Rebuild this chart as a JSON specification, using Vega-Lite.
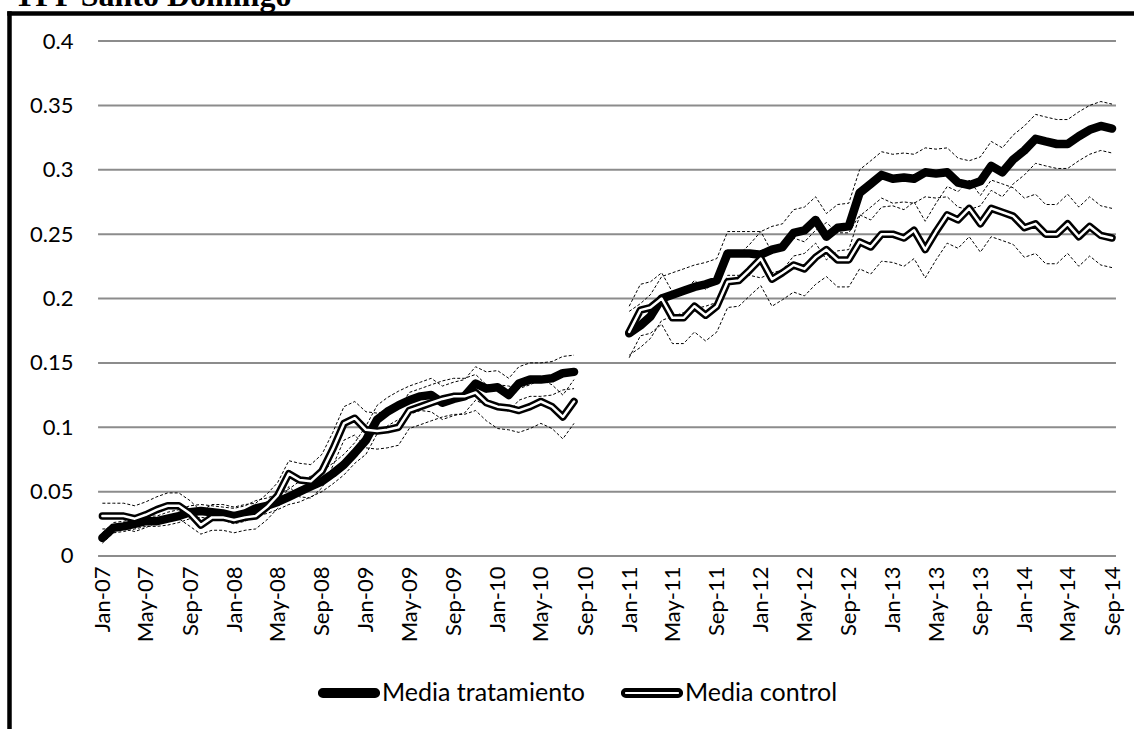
{
  "$schema": "https://vega.github.io/schema/vega-lite/v6.json",
  "width": 1125,
  "height": 716,
  "autosize": {"type": "none"},
  "padding": {"left": 9, "top": 13, "right": 0, "bottom": 0},
  "title": {"text": "TFP Santo Domingo", "font": "Liberation Serif", "fontSize": 32, "fontWeight": "bold", "color": "black", "anchor": "start", "baseline": "alphabetic", "offset": -25, "dx": 5},
  "config": {"view": {"stroke": null}, "font": "Lato"},
  "resolve": {"axis": {"x": "independent", "y": "independent"}},
  "data": {"values": [
    {"d":"2007-01-01","p":1,"t":0.014,"c":0.031,"tu":0.018,"tl":0.010,"cu":0.041,"cl":0.021},
    {"d":"2007-02-01","p":1,"t":0.022,"c":0.031,"tu":0.026,"tl":0.018,"cu":0.041,"cl":0.021},
    {"d":"2007-03-01","p":1,"t":0.023,"c":0.031,"tu":0.027,"tl":0.019,"cu":0.041,"cl":0.021},
    {"d":"2007-04-01","p":1,"t":0.025,"c":0.029,"tu":0.029,"tl":0.021,"cu":0.039,"cl":0.019},
    {"d":"2007-05-01","p":1,"t":0.027,"c":0.032,"tu":0.031,"tl":0.023,"cu":0.042,"cl":0.022},
    {"d":"2007-06-01","p":1,"t":0.027,"c":0.036,"tu":0.031,"tl":0.023,"cu":0.046,"cl":0.026},
    {"d":"2007-07-01","p":1,"t":0.029,"c":0.039,"tu":0.034,"tl":0.024,"cu":0.049,"cl":0.029},
    {"d":"2007-08-01","p":1,"t":0.031,"c":0.039,"tu":0.036,"tl":0.026,"cu":0.049,"cl":0.029},
    {"d":"2007-09-01","p":1,"t":0.034,"c":0.033,"tu":0.039,"tl":0.029,"cu":0.043,"cl":0.023},
    {"d":"2007-10-01","p":1,"t":0.035,"c":0.024,"tu":0.040,"tl":0.030,"cu":0.035,"cl":0.017},
    {"d":"2007-11-01","p":1,"t":0.034,"c":0.030,"tu":0.039,"tl":0.029,"cu":0.040,"cl":0.020},
    {"d":"2007-12-01","p":1,"t":0.033,"c":0.030,"tu":0.038,"tl":0.028,"cu":0.040,"cl":0.020},
    {"d":"2008-01-01","p":1,"t":0.031,"c":0.028,"tu":0.037,"tl":0.025,"cu":0.038,"cl":0.018},
    {"d":"2008-02-01","p":1,"t":0.033,"c":0.030,"tu":0.039,"tl":0.027,"cu":0.040,"cl":0.020},
    {"d":"2008-03-01","p":1,"t":0.037,"c":0.031,"tu":0.043,"tl":0.031,"cu":0.041,"cl":0.021},
    {"d":"2008-04-01","p":1,"t":0.039,"c":0.038,"tu":0.045,"tl":0.033,"cu":0.048,"cl":0.028},
    {"d":"2008-05-01","p":1,"t":0.042,"c":0.047,"tu":0.048,"tl":0.036,"cu":0.057,"cl":0.037},
    {"d":"2008-06-01","p":1,"t":0.046,"c":0.064,"tu":0.052,"tl":0.040,"cu":0.074,"cl":0.054},
    {"d":"2008-07-01","p":1,"t":0.050,"c":0.059,"tu":0.058,"tl":0.042,"cu":0.072,"cl":0.046},
    {"d":"2008-08-01","p":1,"t":0.054,"c":0.058,"tu":0.062,"tl":0.046,"cu":0.071,"cl":0.045},
    {"d":"2008-09-01","p":1,"t":0.058,"c":0.066,"tu":0.066,"tl":0.050,"cu":0.079,"cl":0.053},
    {"d":"2008-10-01","p":1,"t":0.064,"c":0.083,"tu":0.072,"tl":0.056,"cu":0.096,"cl":0.070},
    {"d":"2008-11-01","p":1,"t":0.071,"c":0.103,"tu":0.079,"tl":0.063,"cu":0.116,"cl":0.090},
    {"d":"2008-12-01","p":1,"t":0.080,"c":0.107,"tu":0.088,"tl":0.072,"cu":0.120,"cl":0.094},
    {"d":"2009-01-01","p":1,"t":0.090,"c":0.098,"tu":0.101,"tl":0.079,"cu":0.112,"cl":0.084},
    {"d":"2009-02-01","p":1,"t":0.106,"c":0.097,"tu":0.117,"tl":0.095,"cu":0.111,"cl":0.083},
    {"d":"2009-03-01","p":1,"t":0.112,"c":0.098,"tu":0.123,"tl":0.101,"cu":0.112,"cl":0.084},
    {"d":"2009-04-01","p":1,"t":0.117,"c":0.100,"tu":0.128,"tl":0.106,"cu":0.114,"cl":0.086},
    {"d":"2009-05-01","p":1,"t":0.121,"c":0.113,"tu":0.132,"tl":0.110,"cu":0.127,"cl":0.099},
    {"d":"2009-06-01","p":1,"t":0.124,"c":0.116,"tu":0.135,"tl":0.113,"cu":0.130,"cl":0.102},
    {"d":"2009-07-01","p":1,"t":0.125,"c":0.119,"tu":0.138,"tl":0.112,"cu":0.133,"cl":0.105},
    {"d":"2009-08-01","p":1,"t":0.119,"c":0.122,"tu":0.132,"tl":0.106,"cu":0.136,"cl":0.108},
    {"d":"2009-09-01","p":1,"t":0.122,"c":0.124,"tu":0.135,"tl":0.109,"cu":0.138,"cl":0.110},
    {"d":"2009-10-01","p":1,"t":0.124,"c":0.124,"tu":0.137,"tl":0.111,"cu":0.138,"cl":0.110},
    {"d":"2009-11-01","p":1,"t":0.134,"c":0.127,"tu":0.147,"tl":0.121,"cu":0.141,"cl":0.113},
    {"d":"2009-12-01","p":1,"t":0.130,"c":0.119,"tu":0.143,"tl":0.117,"cu":0.133,"cl":0.105},
    {"d":"2010-01-01","p":1,"t":0.131,"c":0.116,"tu":0.144,"tl":0.118,"cu":0.133,"cl":0.099},
    {"d":"2010-02-01","p":1,"t":0.125,"c":0.115,"tu":0.138,"tl":0.112,"cu":0.132,"cl":0.098},
    {"d":"2010-03-01","p":1,"t":0.134,"c":0.113,"tu":0.147,"tl":0.121,"cu":0.130,"cl":0.096},
    {"d":"2010-04-01","p":1,"t":0.137,"c":0.116,"tu":0.150,"tl":0.124,"cu":0.133,"cl":0.099},
    {"d":"2010-05-01","p":1,"t":0.137,"c":0.120,"tu":0.150,"tl":0.124,"cu":0.137,"cl":0.103},
    {"d":"2010-06-01","p":1,"t":0.138,"c":0.116,"tu":0.151,"tl":0.125,"cu":0.133,"cl":0.099},
    {"d":"2010-07-01","p":1,"t":0.142,"c":0.108,"tu":0.155,"tl":0.129,"cu":0.125,"cl":0.091},
    {"d":"2010-08-01","p":1,"t":0.143,"c":0.120,"tu":0.156,"tl":0.130,"cu":0.137,"cl":0.103},
    {"d":"2011-01-01","p":2,"t":0.173,"c":0.174,"tu":0.190,"tl":0.156,"cu":0.194,"cl":0.154},
    {"d":"2011-02-01","p":2,"t":0.179,"c":0.191,"tu":0.196,"tl":0.162,"cu":0.211,"cl":0.171},
    {"d":"2011-03-01","p":2,"t":0.186,"c":0.193,"tu":0.203,"tl":0.169,"cu":0.213,"cl":0.173},
    {"d":"2011-04-01","p":2,"t":0.200,"c":0.200,"tu":0.217,"tl":0.183,"cu":0.220,"cl":0.180},
    {"d":"2011-05-01","p":2,"t":0.203,"c":0.185,"tu":0.220,"tl":0.186,"cu":0.205,"cl":0.165},
    {"d":"2011-06-01","p":2,"t":0.206,"c":0.185,"tu":0.223,"tl":0.189,"cu":0.205,"cl":0.165},
    {"d":"2011-07-01","p":2,"t":0.209,"c":0.194,"tu":0.226,"tl":0.192,"cu":0.214,"cl":0.174},
    {"d":"2011-08-01","p":2,"t":0.211,"c":0.187,"tu":0.228,"tl":0.194,"cu":0.207,"cl":0.167},
    {"d":"2011-09-01","p":2,"t":0.214,"c":0.194,"tu":0.231,"tl":0.197,"cu":0.214,"cl":0.174},
    {"d":"2011-10-01","p":2,"t":0.235,"c":0.213,"tu":0.252,"tl":0.218,"cu":0.233,"cl":0.193},
    {"d":"2011-11-01","p":2,"t":0.235,"c":0.214,"tu":0.252,"tl":0.218,"cu":0.234,"cl":0.194},
    {"d":"2011-12-01","p":2,"t":0.235,"c":0.222,"tu":0.252,"tl":0.218,"cu":0.242,"cl":0.202},
    {"d":"2012-01-01","p":2,"t":0.234,"c":0.231,"tu":0.252,"tl":0.216,"cu":0.252,"cl":0.210},
    {"d":"2012-02-01","p":2,"t":0.238,"c":0.215,"tu":0.256,"tl":0.220,"cu":0.236,"cl":0.194},
    {"d":"2012-03-01","p":2,"t":0.240,"c":0.220,"tu":0.258,"tl":0.222,"cu":0.241,"cl":0.199},
    {"d":"2012-04-01","p":2,"t":0.251,"c":0.226,"tu":0.269,"tl":0.233,"cu":0.247,"cl":0.205},
    {"d":"2012-05-01","p":2,"t":0.253,"c":0.223,"tu":0.271,"tl":0.235,"cu":0.244,"cl":0.202},
    {"d":"2012-06-01","p":2,"t":0.261,"c":0.232,"tu":0.279,"tl":0.243,"cu":0.253,"cl":0.211},
    {"d":"2012-07-01","p":2,"t":0.248,"c":0.238,"tu":0.266,"tl":0.230,"cu":0.259,"cl":0.217},
    {"d":"2012-08-01","p":2,"t":0.255,"c":0.230,"tu":0.273,"tl":0.237,"cu":0.251,"cl":0.209},
    {"d":"2012-09-01","p":2,"t":0.256,"c":0.230,"tu":0.274,"tl":0.238,"cu":0.251,"cl":0.209},
    {"d":"2012-10-01","p":2,"t":0.282,"c":0.244,"tu":0.300,"tl":0.264,"cu":0.265,"cl":0.223},
    {"d":"2012-11-01","p":2,"t":0.289,"c":0.240,"tu":0.307,"tl":0.271,"cu":0.261,"cl":0.219},
    {"d":"2012-12-01","p":2,"t":0.296,"c":0.250,"tu":0.314,"tl":0.278,"cu":0.271,"cl":0.229},
    {"d":"2013-01-01","p":2,"t":0.293,"c":0.250,"tu":0.312,"tl":0.274,"cu":0.272,"cl":0.228},
    {"d":"2013-02-01","p":2,"t":0.294,"c":0.247,"tu":0.313,"tl":0.275,"cu":0.269,"cl":0.225},
    {"d":"2013-03-01","p":2,"t":0.293,"c":0.253,"tu":0.312,"tl":0.274,"cu":0.275,"cl":0.231},
    {"d":"2013-04-01","p":2,"t":0.298,"c":0.238,"tu":0.317,"tl":0.279,"cu":0.260,"cl":0.216},
    {"d":"2013-05-01","p":2,"t":0.297,"c":0.252,"tu":0.316,"tl":0.278,"cu":0.274,"cl":0.230},
    {"d":"2013-06-01","p":2,"t":0.298,"c":0.265,"tu":0.317,"tl":0.279,"cu":0.287,"cl":0.243},
    {"d":"2013-07-01","p":2,"t":0.290,"c":0.261,"tu":0.309,"tl":0.271,"cu":0.283,"cl":0.239},
    {"d":"2013-08-01","p":2,"t":0.288,"c":0.270,"tu":0.307,"tl":0.269,"cu":0.292,"cl":0.248},
    {"d":"2013-09-01","p":2,"t":0.291,"c":0.258,"tu":0.310,"tl":0.272,"cu":0.280,"cl":0.236},
    {"d":"2013-10-01","p":2,"t":0.303,"c":0.270,"tu":0.322,"tl":0.284,"cu":0.292,"cl":0.248},
    {"d":"2013-11-01","p":2,"t":0.298,"c":0.267,"tu":0.317,"tl":0.279,"cu":0.289,"cl":0.245},
    {"d":"2013-12-01","p":2,"t":0.308,"c":0.264,"tu":0.327,"tl":0.289,"cu":0.286,"cl":0.242},
    {"d":"2014-01-01","p":2,"t":0.315,"c":0.255,"tu":0.334,"tl":0.296,"cu":0.278,"cl":0.232},
    {"d":"2014-02-01","p":2,"t":0.324,"c":0.258,"tu":0.343,"tl":0.305,"cu":0.281,"cl":0.235},
    {"d":"2014-03-01","p":2,"t":0.322,"c":0.250,"tu":0.341,"tl":0.303,"cu":0.273,"cl":0.227},
    {"d":"2014-04-01","p":2,"t":0.320,"c":0.250,"tu":0.339,"tl":0.301,"cu":0.273,"cl":0.227},
    {"d":"2014-05-01","p":2,"t":0.320,"c":0.258,"tu":0.339,"tl":0.301,"cu":0.281,"cl":0.235},
    {"d":"2014-06-01","p":2,"t":0.326,"c":0.248,"tu":0.345,"tl":0.307,"cu":0.271,"cl":0.225},
    {"d":"2014-07-01","p":2,"t":0.331,"c":0.256,"tu":0.350,"tl":0.312,"cu":0.279,"cl":0.233},
    {"d":"2014-08-01","p":2,"t":0.334,"c":0.249,"tu":0.353,"tl":0.315,"cu":0.272,"cl":0.226},
    {"d":"2014-09-01","p":2,"t":0.332,"c":0.247,"tu":0.351,"tl":0.313,"cu":0.270,"cl":0.224}
  ]},
  "layer": [
    {
      "data": {"values": [{"g":0},{"g":0.05},{"g":0.1},{"g":0.15},{"g":0.2},{"g":0.25},{"g":0.3},{"g":0.35},{"g":0.4}]},
      "mark": {"type": "rule", "color": "#8c8c8c", "strokeWidth": 2},
      "encoding": {
        "y": {"field": "g", "type": "quantitative",
              "scale": {"domain": [-0.13437, 0.42175], "nice": false, "zero": false},
              "axis": {"orient": "left", "values": [0,0.05,0.1,0.15,0.2,0.25,0.3,0.35,0.4], "format": "~g", "title": null,
                       "grid": false, "ticks": false, "tickSize": 0, "domain": true, "domainColor": "black", "domainWidth": 4.5, "domainCap": "square",
                       "labelPadding": -64, "labelAlign": "right", "labelBaseline": "middle", "labelFont": "Lato", "labelFontSize": 22, "labelColor": "black", "labelOverlap": false}},
        "x": {"datum": {"year": 2006, "month": 12, "date": 20, "utc": true}, "type": "temporal", "axis": null},
        "x2": {"datum": {"year": 2014, "month": 9, "date": 12, "utc": true}}
      }
    },
    {
      "transform": [{"fold": ["tu","tl","cu","cl"], "as": ["s","v"]}],
      "mark": {"type": "line", "color": "black", "strokeWidth": 1, "strokeDash": [3,2]},
      "encoding": {
        "x": {"field": "d", "type": "temporal",
              "scale": {"type": "utc", "domain": [{"year": 2006, "month": 4, "date": 17, "utc": true}, {"year": 2014, "month": 11, "date": 1, "utc": true}]},
              "axis": {"orient": "top", "labels": false, "ticks": false, "grid": false, "title": null, "domainColor": "black", "domainWidth": 4.5, "domainCap": "square"}},
        "y": {"field": "v", "type": "quantitative", "axis": null},
        "detail": [{"field": "s"}, {"field": "p"}]
      }
    },
    {
      "mark": {"type": "line", "strokeWidth": 8.5, "strokeCap": "round", "strokeJoin": "round"},
      "encoding": {
        "x": {"field": "d", "type": "temporal",
              "axis": {"orient": "bottom", "offset": -173, "title": null, "grid": false, "ticks": false, "domain": false,
                       "format": "%b-%y", "labelAngle": -90, "labelPadding": 10, "labelFont": "Lato", "labelFontSize": 22, "labelColor": "black", "labelOverlap": false, "labelFlush": false,
                       "values": [
                         {"year":2007,"month":1,"date":1,"utc":true},{"year":2007,"month":5,"date":1,"utc":true},{"year":2007,"month":9,"date":1,"utc":true},
                         {"year":2008,"month":1,"date":1,"utc":true},{"year":2008,"month":5,"date":1,"utc":true},{"year":2008,"month":9,"date":1,"utc":true},
                         {"year":2009,"month":1,"date":1,"utc":true},{"year":2009,"month":5,"date":1,"utc":true},{"year":2009,"month":9,"date":1,"utc":true},
                         {"year":2010,"month":1,"date":1,"utc":true},{"year":2010,"month":5,"date":1,"utc":true},{"year":2010,"month":9,"date":1,"utc":true},
                         {"year":2011,"month":1,"date":1,"utc":true},{"year":2011,"month":5,"date":1,"utc":true},{"year":2011,"month":9,"date":1,"utc":true},
                         {"year":2012,"month":1,"date":1,"utc":true},{"year":2012,"month":5,"date":1,"utc":true},{"year":2012,"month":9,"date":1,"utc":true},
                         {"year":2013,"month":1,"date":1,"utc":true},{"year":2013,"month":5,"date":1,"utc":true},{"year":2013,"month":9,"date":1,"utc":true},
                         {"year":2014,"month":1,"date":1,"utc":true},{"year":2014,"month":5,"date":1,"utc":true},{"year":2014,"month":9,"date":1,"utc":true}
                       ]}},
        "y": {"field": "t", "type": "quantitative", "axis": null},
        "detail": {"field": "p"},
        "color": {"datum": "Media tratamiento",
                  "scale": {"domain": ["Media tratamiento", "Media control"], "range": ["black", "black"]},
                  "legend": {"orient": "none", "legendX": 308, "legendY": 648, "direction": "horizontal", "title": null, "padding": 0,
                             "labelFont": "Lato", "labelFontSize": 25, "labelColor": "black", "labelLimit": 400, "labelOffset": 1,
                             "symbolSize": 3600, "columnPadding": 29,
                             "symbolType": "M-0.87,-0.1 L0.87,-0.1 A0.1,0.1 0 0 1 0.87,0.1 L-0.87,0.1 A0.1,0.1 0 0 1 -0.87,-0.1 Z",
                             "encode": {"symbols": {"update": {
                               "fill": {"signal": "datum.value === 'Media control' ? '#ffffff' : '#000000'"},
                               "stroke": {"value": "#000000"},
                               "strokeWidth": {"value": 4},
                               "opacity": {"value": 1}}}}}}
      }
    },
    {
      "mark": {"type": "line", "strokeWidth": 7.5, "strokeCap": "round", "strokeJoin": "round"},
      "encoding": {
        "x": {"field": "d", "type": "temporal", "axis": null},
        "y": {"field": "c", "type": "quantitative", "axis": null},
        "detail": {"field": "p"},
        "color": {"datum": "Media control"}
      }
    },
    {
      "mark": {"type": "line", "color": "white", "strokeWidth": 2.5, "strokeCap": "round", "strokeJoin": "round"},
      "encoding": {
        "x": {"field": "d", "type": "temporal", "axis": null},
        "y": {"field": "c", "type": "quantitative", "axis": null},
        "detail": {"field": "p"}
      }
    }
  ]
}
